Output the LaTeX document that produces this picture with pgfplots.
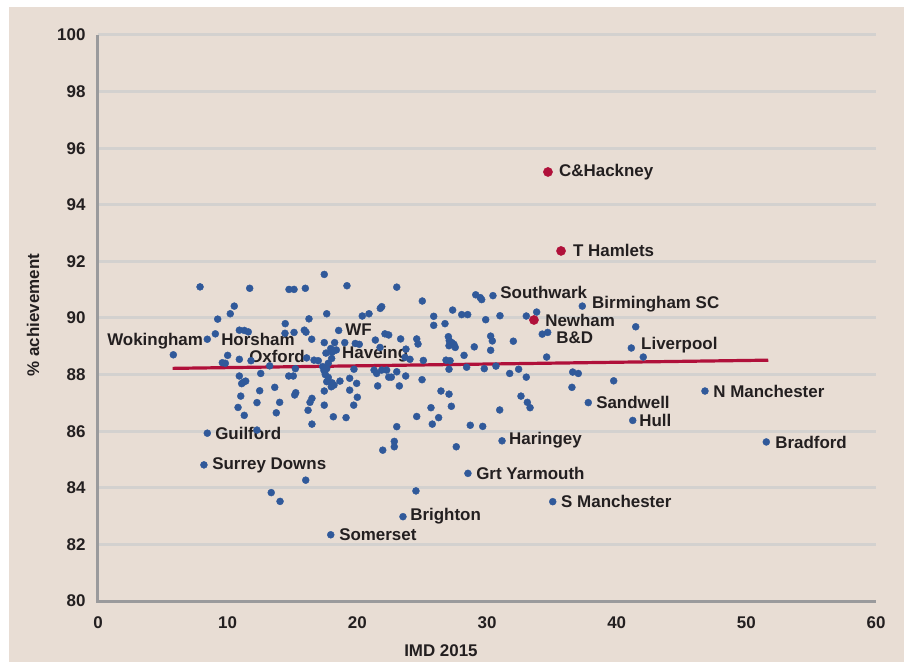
\documentclass[border=0pt]{standalone}
\usepackage{pgfplots}
\pgfplotsset{compat=1.18}
\usepackage{fontspec}
\setmainfont{Liberation Sans}
\definecolor{bg}{HTML}{E8DDD4}
\definecolor{gridc}{HTML}{D3D1CF}
\definecolor{axisgray}{HTML}{9A9A9C}
\definecolor{dotblue}{HTML}{30599A}
\definecolor{dotred}{HTML}{B0103A}
\definecolor{txt}{HTML}{231F20}
\newcommand{\lab}{\fontsize{17}{19}\selectfont\bfseries}
\begin{document}
\begin{tikzpicture}
\fill[bg] (-89bp,-61bp) rectangle (806bp,594bp);
\path[use as bounding box] (-98bp,-61bp) rectangle (806bp,601bp);
\begin{axis}[
  at={(0,0)}, anchor=south west,
  width=778bp, height=566bp, scale only axis,
  xmin=0, xmax=60, ymin=80, ymax=100,
  xtick={0,10,...,60}, ytick={80,82,...,100},
  axis lines*=left,
  axis line style={draw=none},
  major tick length=0pt, tick style={draw=none},
  ymajorgrids, grid style={gridc, line width=3bp},
  ticklabel style={font=\lab, text=txt},
  /pgf/number format/assume math mode=true,
  yticklabel style={xshift=-9bp},
  xticklabel style={yshift=-12bp},
  clip=false,
]
\draw[axisgray, line width=3bp] (axis cs:0,100) -- (axis cs:0,80) -- (axis cs:60,80);
\addplot[only marks, color=dotblue, mark=*, mark size=3.5bp, mark options={draw=none, fill=dotblue}] coordinates {
(7.87,91.10) (11.70,91.05) (14.73,91.01) (15.12,91.01) (15.99,91.05)
(10.51,90.42) (10.20,90.15) (9.23,89.96) (16.27,89.97) (14.44,89.80)
(9.05,89.44) (8.43,89.25) (10.90,89.57) (11.28,89.56) (11.59,89.51)
(14.42,89.46) (15.12,89.49) (15.91,89.57) (16.04,89.50) (16.48,89.25)
(5.81,88.70) (10.00,88.68) (10.90,88.54) (9.59,88.42) (9.82,88.40)
(11.80,88.49) (13.24,88.31) (12.55,88.04) (15.22,88.21) (16.09,88.59)
(16.66,88.51) (16.99,88.49) (10.90,87.95) (11.39,87.77) (11.21,87.73)
(11.08,87.68) (14.71,87.95) (15.06,87.95) (12.47,87.43) (13.63,87.55)
(11.01,87.24) (15.25,87.36) (15.17,87.28) (10.80,86.84) (12.26,87.01)
(14.01,87.02) (11.28,86.56) (13.75,86.65) (16.50,87.16) (16.35,87.02)
(16.20,86.74) (16.50,86.25) (8.43,85.93) (12.26,86.04) (8.17,84.81)
(17.45,91.54) (19.20,91.14) (17.64,90.15) (18.56,89.56) (17.45,89.13)
(18.25,89.13) (19.03,89.13) (19.84,89.10) (20.15,89.07) (18.38,88.87)
(18.05,88.79) (17.58,88.76) (18.02,88.57) (17.76,88.40) (17.33,88.28)
(17.64,88.21) (17.43,88.14) (17.53,88.00) (17.76,87.90) (17.64,87.75)
(18.05,87.71) (17.99,87.57) (18.20,87.63) (18.66,87.77) (19.41,87.87)
(19.95,87.69) (17.45,87.42) (19.41,87.45) (20.00,87.20) (17.45,86.92)
(19.72,86.92) (18.15,86.51) (19.13,86.48) (23.04,91.09) (29.13,90.82)
(29.48,90.72) (29.59,90.65) (30.46,90.79) (25.01,90.60) (21.77,90.34)
(21.88,90.40) (27.35,90.28) (28.05,90.12) (28.51,90.12) (31.00,90.08)
(20.38,90.07) (20.90,90.15) (25.89,90.06) (29.90,89.94) (25.89,89.74)
(26.76,89.80) (22.13,89.44) (22.42,89.40) (30.28,89.36) (30.41,89.19)
(21.39,89.22) (23.34,89.26) (24.58,89.26) (24.68,89.08) (27.02,89.34)
(27.09,89.20) (27.28,89.13) (27.45,89.07) (27.07,89.02) (27.55,88.96)
(29.02,88.98) (30.28,88.86) (21.75,88.96) (23.75,88.90) (23.68,88.61)
(24.06,88.54) (25.09,88.50) (26.84,88.51) (27.15,88.49) (28.23,88.68)
(27.07,88.19) (28.43,88.26) (29.79,88.21) (30.69,88.30) (19.74,88.19)
(21.29,88.16) (21.49,88.04) (21.88,88.16) (22.26,88.16) (22.42,87.91)
(22.62,87.91) (23.04,88.10) (23.73,87.95) (24.99,87.82) (21.57,87.60)
(23.24,87.60) (26.45,87.42) (27.07,87.31) (25.68,86.83) (27.25,86.88)
(30.98,86.75) (24.58,86.52) (26.27,86.48) (25.78,86.25) (28.71,86.21)
(29.67,86.17) (23.04,86.16) (22.85,85.64) (22.85,85.45) (21.96,85.33)
(27.63,85.45) (37.35,90.42) (33.03,90.07) (33.83,90.21) (34.26,89.43)
(34.68,89.49) (41.47,89.69) (32.03,89.18) (41.13,88.94) (34.60,88.62)
(32.44,88.19) (31.75,88.04) (33.03,87.91) (36.61,88.09) (37.04,88.04)
(39.77,87.78) (36.55,87.55) (32.62,87.24) (33.11,87.02) (33.32,86.83)
(37.81,87.01) (41.24,86.38) (31.16,85.66) (42.05,88.62) (46.81,87.42)
(51.54,85.62) (16.02,84.27) (13.36,83.83) (14.04,83.52) (17.95,82.34)
(28.53,84.51) (24.52,83.89) (35.07,83.51) (23.52,82.98)
(18.20,88.85) (17.95,88.92)
};
\addplot[dotred, line width=3.2bp] coordinates {(5.76,88.22) (51.69,88.51)};
\addplot[only marks, color=dotred, mark=*, mark size=4.6bp, mark options={draw=none, fill=dotred}] coordinates {
(34.70,95.16) (35.71,92.37) (33.62,89.93)
};
\begin{scope}[every node/.style={anchor=west, inner sep=0pt, font=\lab, text=txt}]
\node at (axis cs:35.55,95.16) {C\&Hackney};
\node at (axis cs:36.63,92.37) {T Hamlets};
\node at (axis cs:31.02,90.92) {Southwark};
\node at (axis cs:38.10,90.49) {Birmingham SC};
\node at (axis cs:34.48,89.93) {Newham};
\node at (axis cs:35.33,89.29) {B\&D};
\node at (axis cs:41.88,89.04) {Liverpool};
\node at (axis cs:0.70,89.19) {Wokingham};
\node at (axis cs:9.49,89.24) {Horsham};
\node at (axis cs:11.65,88.64) {Oxford};
\node at (axis cs:19.06,89.57) {WF};
\node at (axis cs:18.82,88.73) {Haveing};
\node at (axis cs:47.44,87.42) {N Manchester};
\node at (axis cs:38.41,87.03) {Sandwell};
\node at (axis cs:41.73,86.39) {Hull};
\node at (axis cs:52.22,85.62) {Bradford};
\node at (axis cs:31.70,85.69) {Haringey};
\node at (axis cs:9.03,85.93) {Guilford};
\node at (axis cs:8.80,84.80) {Surrey Downs};
\node at (axis cs:29.16,84.52) {Grt Yarmouth};
\node at (axis cs:35.71,83.53) {S Manchester};
\node at (axis cs:24.07,83.00) {Brighton};
\node at (axis cs:18.59,82.33) {Somerset};
\end{scope}
\node[font=\lab, text=txt, inner sep=0pt] at (axis cs:26.45,78.23) {IMD 2015};
\node[font=\lab, text=txt, inner sep=0pt, rotate=90] at (axis cs:-5.01,90.1) {\% achievement};
\end{axis}
\end{tikzpicture}
\end{document}
